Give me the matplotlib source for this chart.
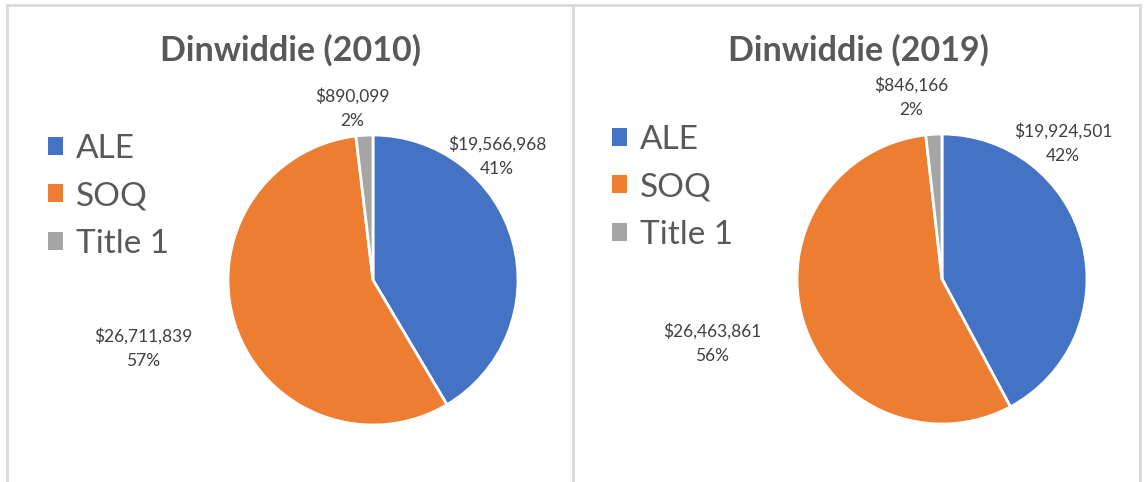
import matplotlib.pyplot as plt
from matplotlib.patches import Patch
from matplotlib.lines import Line2D

# Data
categories = ['ALE', 'SOQ', 'Title 1']
years = ['2010', '2019']
values_2010 = [19566968, 26711839, 890099]
values_2019 = [19924501, 26463861, 846166]
colors = ['#4472c4', '#ed7d31', '#a5a5a5']

W, H = 1144, 482
plt.rcParams['font.family'] = ['Lato', 'DejaVu Sans']

fig = plt.figure(figsize=(W / 100, H / 100), dpi=100)


def px(x, y):
    return x / W, 1 - y / H


# panel borders
border = '#d9d9d9'
for xs, ys in [((7, 1140), (5, 5)), ((7, 7), (5, 482)), ((573, 573), (5, 482)), ((1140, 1140), (5, 482))]:
    fig.add_artist(Line2D([x / W for x in xs], [1 - y / H for y in ys],
                          color=border, lw=2, transform=fig.transFigure))

# layout per panel: pie center, title x, legend pos, label positions
panels = [
    dict(vals=values_2010, year=years[0], cx=373, cy=280, tx=290, leg=(48, 134),
         lab=[(497, 156), (143, 348), (352, 108)]),
    dict(vals=values_2019, year=years[1], cx=942, cy=279, tx=858, leg=(612, 125),
         lab=[(1063, 143), (712, 343), (911, 97)]),
]
r = 145

for p in panels:
    l, b = px(p['cx'] - r, p['cy'] + r)
    ax = fig.add_axes([l, b, 2 * r / W, 2 * r / H])
    wedges, _ = ax.pie(p['vals'], colors=colors, startangle=90, counterclock=False,
                       wedgeprops=dict(edgecolor='white', linewidth=2))
    ax.set_xlim(-1, 1)
    ax.set_ylim(-1, 1)
    ax.set_aspect('equal')
    ax.axis('off')

    total = sum(p['vals'])
    for v, (x, y) in zip(p['vals'], p['lab']):
        fig.text(*px(x, y), '${:,}\n{:.0f}%'.format(v, 100 * v / total),
                 ha='center', va='center', fontsize=12.5, color='#404040',
                 linespacing=1.65)

    fig.text(*px(p['tx'], 50), 'Dinwiddie ({})'.format(p['year']), ha='center', va='center',
             fontsize=24.5, fontweight='bold', color='#595959')

    handles = [Patch(facecolor=c, edgecolor='none') for c in colors]
    fig.legend(handles, categories, loc='upper left', bbox_to_anchor=px(*p['leg']),
               frameon=False, fontsize=24, handlelength=0.45, handleheight=0.45,
               handletextpad=0.4, labelspacing=0.52, labelcolor='#595959',
               borderaxespad=0, borderpad=0)

fig.savefig('out.png', dpi=100)
